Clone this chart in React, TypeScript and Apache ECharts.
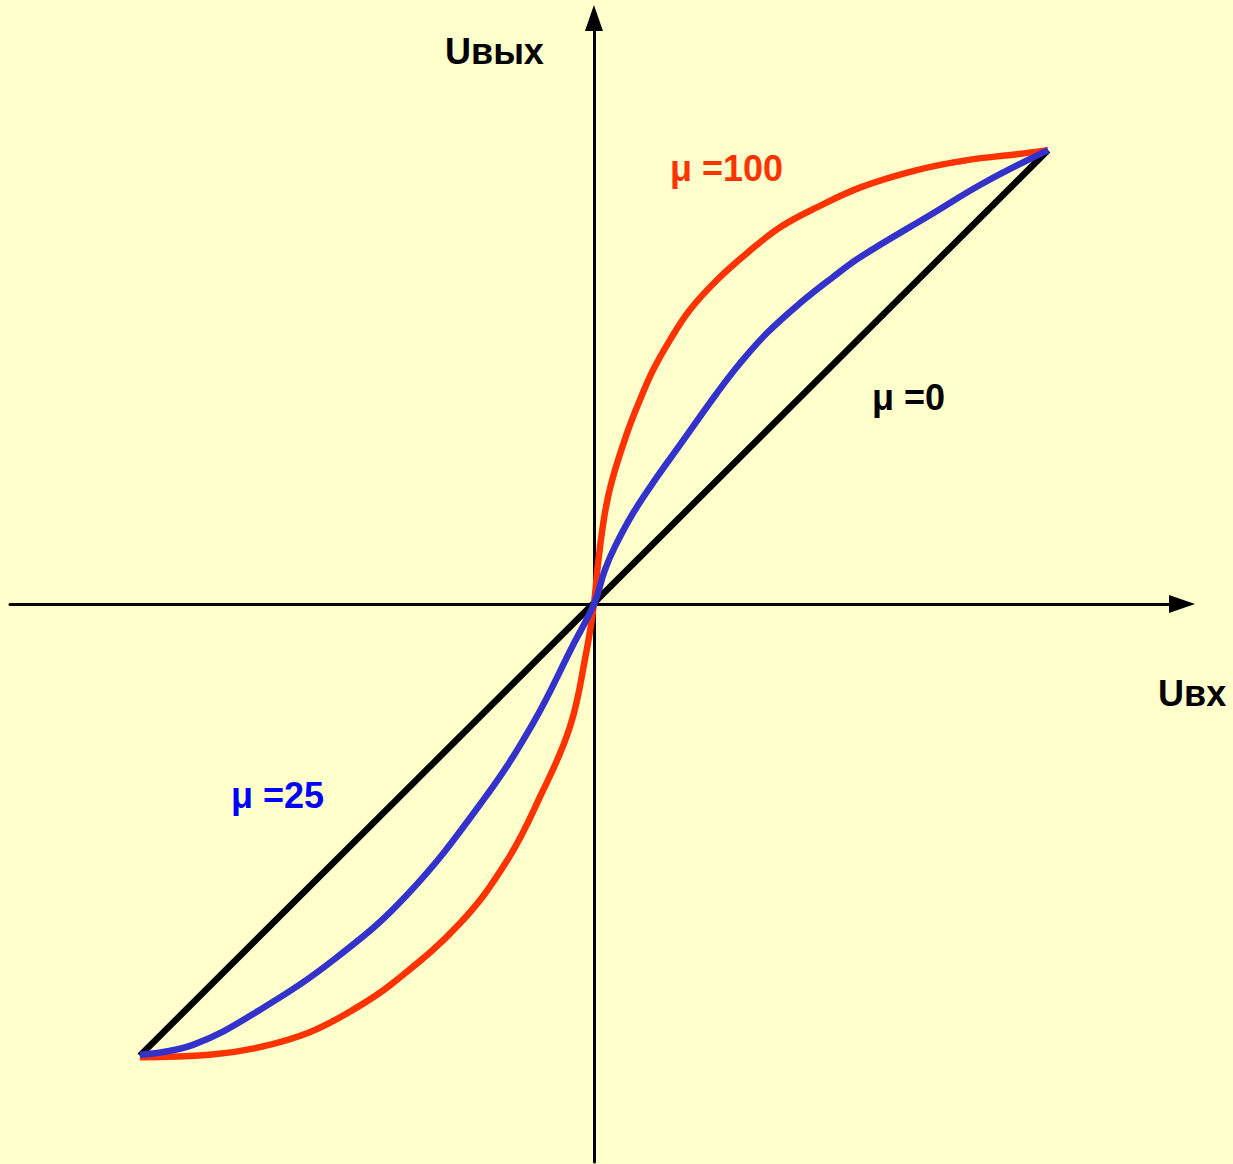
import React, { useEffect, useRef } from "react";
import * as echarts from "echarts";

// Curves, in units where the end points are (±1, ±1)
const redX = [-1.0, -0.846, -0.736, -0.626, -0.531, -0.443, -0.295, -0.192, -0.119, -0.053, -0.018, 0, 0.009, 0.024, 0.04, 0.073, 0.101, 0.13, 0.167, 0.211, 0.271, 0.337, 0.41, 0.491, 0.59, 0.711, 0.822, 0.932, 1.0];
const redY = [-0.998, -0.993, -0.976, -0.943, -0.894, -0.835, -0.703, -0.566, -0.425, -0.271, -0.112, 0, 0.09, 0.2, 0.273, 0.377, 0.449, 0.515, 0.581, 0.648, 0.714, 0.773, 0.83, 0.874, 0.919, 0.956, 0.978, 0.991, 1.0];

const blueX = [-1.0, -0.883, -0.736, -0.566, -0.412, -0.244, -0.134, -0.046, 0, 0.024, 0.046, 0.086, 0.134, 0.189, 0.271, 0.322, 0.381, 0.454, 0.526, 0.586, 0.747, 0.857, 1.0];
const blueY = [-0.993, -0.971, -0.894, -0.778, -0.641, -0.432, -0.262, -0.09, 0, 0.075, 0.126, 0.2, 0.273, 0.35, 0.465, 0.531, 0.597, 0.663, 0.72, 0.764, 0.861, 0.927, 1.0];

const blackX = [-1.0, 1.0];
const blackY = [-0.995, 1.0];

const labels = ["μ =100", "μ =0", "μ =25"];
const axisTitles = ["Uвх", "Uвых"];

const zip = (xs: number[], ys: number[]) => xs.map((x, i) => [x, ys[i]]);

export default function App() {
  const ref = useRef<HTMLDivElement>(null);
  useEffect(() => {
    if (!ref.current) return;
    const chart = echarts.init(ref.current, null, { renderer: "svg" });
    const font = "'Liberation Sans', Arial, sans-serif";
    const txt = (text: string, x: number, y: number, fill: string) => ({
      type: "text",
      x,
      y,
      z: 10,
      style: {
        text,
        fill,
        fontFamily: font,
        fontWeight: "bold",
        fontSize: 36,
        verticalAlign: "top",
        align: "left",
      },
    });
    const axisLine = {
      onZero: true,
      symbol: ["none", "triangle"],
      symbolSize: [18, 26],
      lineStyle: { color: "#000", width: 3 },
    };
    chart.setOption({
      animation: false,
      backgroundColor: "#FFFFCC",
      grid: { left: 10, top: 18, width: 1172, height: 1144, containLabel: false },
      xAxis: {
        type: "value",
        min: -1.286,
        max: 1.295,
        splitLine: { show: false },
        axisTick: { show: false },
        axisLabel: { show: false },
        axisLine,
      },
      yAxis: {
        type: "value",
        min: -1.229,
        max: 1.291,
        splitLine: { show: false },
        axisTick: { show: false },
        axisLabel: { show: false },
        axisLine,
      },
      series: [
        {
          name: "μ =0",
          type: "line",
          data: zip(blackX, blackY),
          showSymbol: false,
          lineStyle: { color: "#000000", width: 6.5 },
          z: 3,
        },
        {
          name: "μ =100",
          type: "line",
          data: zip(redX, redY),
          smooth: 0.4,
          showSymbol: false,
          lineStyle: { color: "#FF3300", width: 6.5 },
          z: 4,
        },
        {
          name: "μ =25",
          type: "line",
          data: zip(blueX, blueY),
          smooth: 0.4,
          showSymbol: false,
          lineStyle: { color: "#3333CC", width: 6.5 },
          z: 5,
        },
      ],
      graphic: [
        txt(axisTitles[1], 445, 33, "#000000"),
        txt(axisTitles[0], 1158, 675, "#000000"),
        txt(labels[0], 670, 150, "#FF3300"),
        txt(labels[1], 872, 379, "#000000"),
        txt(labels[2], 231, 777, "#0000FF"),
      ],
    });
    return () => chart.dispose();
  }, []);
  return (
    <div
      ref={ref}
      style={{ position: "absolute", left: 0, top: 0, width: 1233, height: 1164 }}
    />
  );
}
